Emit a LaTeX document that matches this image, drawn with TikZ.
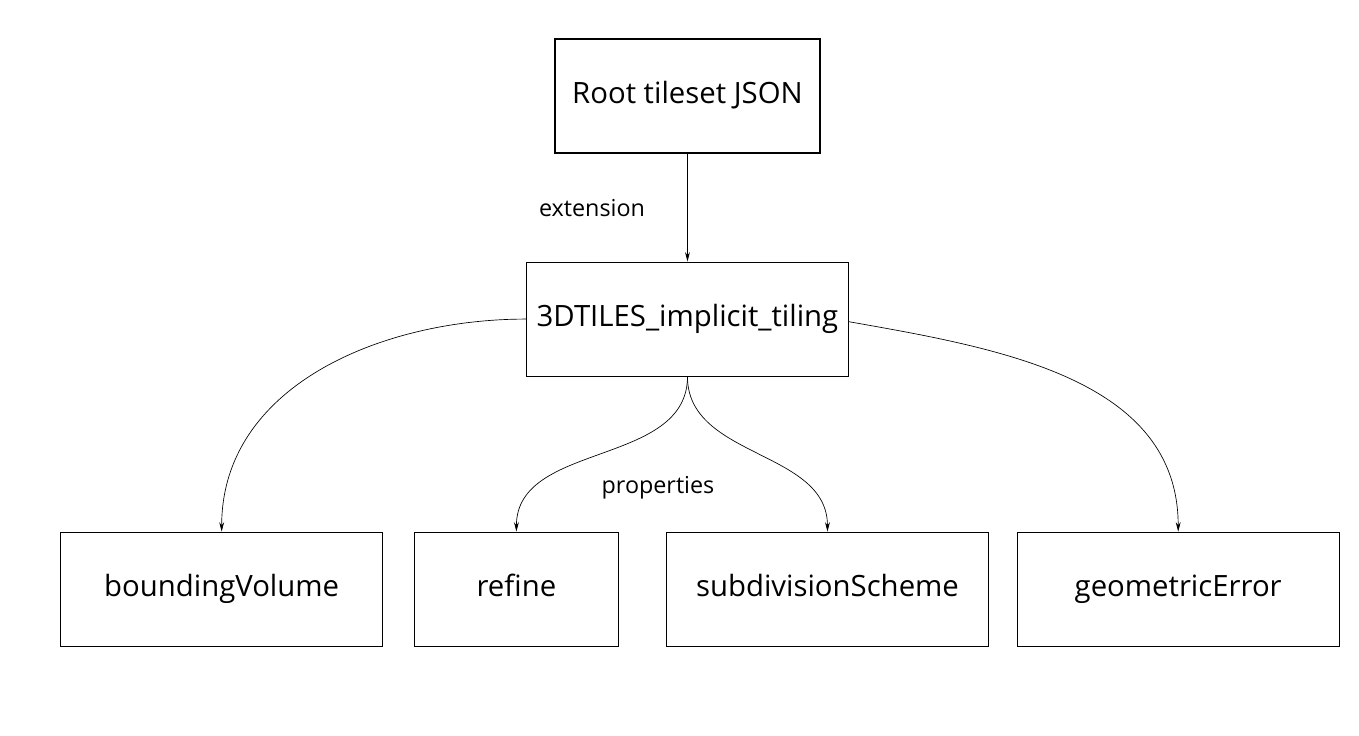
\documentclass[tikz,border=0pt]{standalone}
\usepackage{fontspec}
\setmainfont{Open Sans}
\usetikzlibrary{positioning,arrows.meta}

\tikzset{
  box/.style={draw, line width=0.8pt, minimum height=85.5pt, minimum width=241.5pt, inner sep=0pt,
    text height=16pt, text depth=5pt, font=\fontsize{22}{26}\selectfont},
  link/.style={line width=0.5pt, -{Stealth[length=7pt,width=3.6pt]}},
  lbl/.style={font=\fontsize{17.5}{20}\selectfont}
}

\begin{document}
\begin{tikzpicture}

  \useasboundingbox (0,0) rectangle (1019.25pt,-551.25pt);

  \node (root) [box, minimum width=198.75pt] at (515.6pt,-72pt) {Root tileset JSON};
  \node (impl) [box, below=81pt of root] {3DTILES\_implicit\_tiling};

  \node (subdiv) [box, below=116.25pt of impl, xshift=105pt] {subdivisionScheme};
  \node (refine) [box, minimum width=153pt, left=35.25pt of subdiv] {refine};
  \node (bvol) [box, left=23pt of refine] {boundingVolume};
  \node (geoerr) [box, right=20.75pt of subdiv] {geometricError};

  \node (ext) [lbl] at (444pt,-156pt) {extension};
  \node (props) [lbl] at (493.5pt,-366pt) {properties};

  \draw [link] (root) -- (impl);

  \draw [link] (impl.west) to [out=180, in=90] (bvol.north);
  \draw [link] (impl.south) to [out=-90, in=90] (refine.north);
  \draw [link] (impl.south) to [out=-90, in=90] (subdiv.north);
  \draw [link] ([yshift=-2pt]impl.east) to [out=-10, in=90] (geoerr.north);

\end{tikzpicture}
\end{document}
